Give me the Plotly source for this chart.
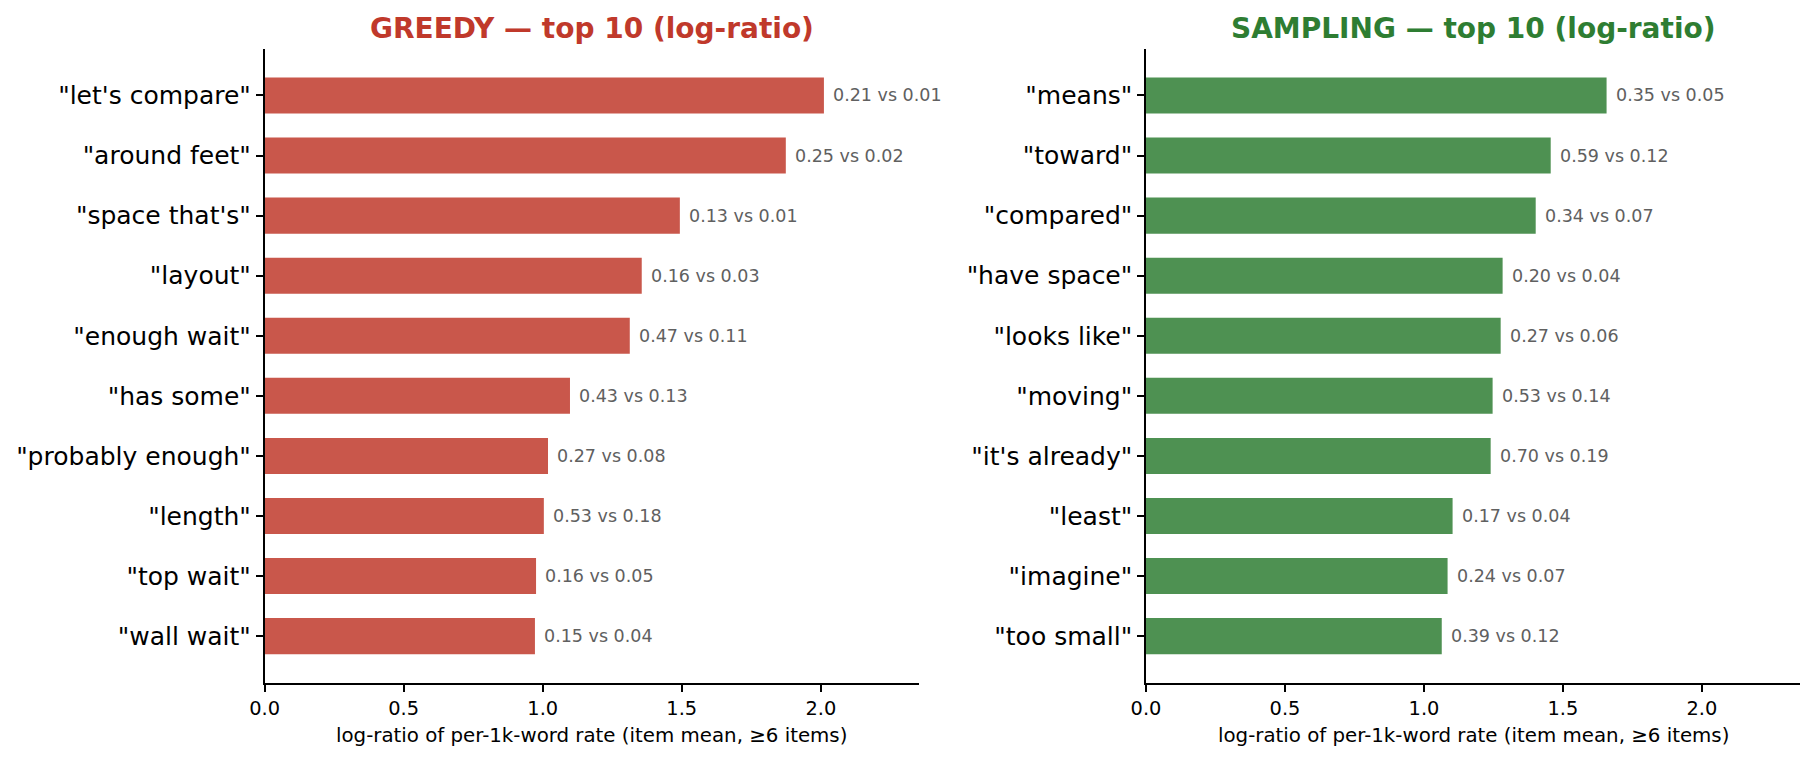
import plotly.graph_objects as go

W, H = 1815, 761
PAD = 8  # page body margin in the browser

# data, top to bottom
greedy_terms = ['"let\'s compare"', '"around feet"', '"space that\'s"', '"layout"', '"enough wait"',
                '"has some"', '"probably enough"', '"length"', '"top wait"', '"wall wait"']
greedy_logratio = [2.011, 1.874, 1.493, 1.356, 1.313, 1.098, 1.019, 1.004, 0.976, 0.972]
greedy_rates = ["0.21 vs 0.01", "0.25 vs 0.02", "0.13 vs 0.01", "0.16 vs 0.03", "0.47 vs 0.11",
                "0.43 vs 0.13", "0.27 vs 0.08", "0.53 vs 0.18", "0.16 vs 0.05", "0.15 vs 0.04"]

sampling_terms = ['"means"', '"toward"', '"compared"', '"have space"', '"looks like"',
                  '"moving"', '"it\'s already"', '"least"', '"imagine"', '"too small"']
sampling_logratio = [1.657, 1.456, 1.402, 1.283, 1.276, 1.247, 1.240, 1.103, 1.085, 1.064]
sampling_rates = ["0.35 vs 0.05", "0.59 vs 0.12", "0.34 vs 0.07", "0.20 vs 0.04", "0.27 vs 0.06",
                  "0.53 vs 0.14", "0.70 vs 0.19", "0.17 vs 0.04", "0.24 vs 0.07", "0.39 vs 0.12"]

xticks = [0.0, 0.5, 1.0, 1.5, 2.0]
xlabel = "log-ratio of per-1k-word rate (item mean, ≥6 items)"

FONT = "DejaVu Sans"
panels = [
    dict(terms=greedy_terms, vals=greedy_logratio, rates=greedy_rates,
         bar="#C9574B", title_color="#C0392B", title="GREEDY — top 10 (log-ratio)",
         dom=[(264.6 - PAD) / W, (919 - PAD) / W], ax=""),
    dict(terms=sampling_terms, vals=sampling_logratio, rates=sampling_rates,
         bar="#4E9152", title_color="#2E7D32", title="SAMPLING — top 10 (log-ratio)",
         dom=[(1146 - PAD) / W, (1800 - PAD) / W], ax="2"),
]

xmax = max(greedy_logratio + sampling_logratio) * 1.17
ydom = [1 - (683 - PAD) / H, 1 - (48.6 - PAD) / H]

fig = go.Figure()
annotations = []
for p in panels:
    fig.add_trace(go.Bar(
        x=p["vals"], y=p["terms"], orientation="h", width=0.6,
        marker=dict(color=p["bar"], line=dict(width=0)),
        xaxis="x" + p["ax"], yaxis="y" + p["ax"], showlegend=False,
    ))
    for v, t, r in zip(p["vals"], p["terms"], p["rates"]):
        annotations.append(dict(
            x=v, y=t, xref="x" + p["ax"], yref="y" + p["ax"], text=r, showarrow=False,
            xanchor="left", yanchor="middle", xshift=7,
            font=dict(family=FONT, size=17.5, color="#606060"),
        ))
    annotations.append(dict(
        x=(p["dom"][0] + p["dom"][1]) / 2, y=1 - (29 - PAD) / H, xref="paper", yref="paper",
        text=p["title"], showarrow=False, xanchor="center", yanchor="middle",
        font=dict(family=FONT, size=28, color=p["title_color"], weight="bold"),
    ))
    annotations.append(dict(
        x=(p["dom"][0] + p["dom"][1]) / 2, y=1 - (735 - PAD) / H, xref="paper", yref="paper",
        text=xlabel, showarrow=False, xanchor="center", yanchor="middle",
        font=dict(family=FONT, size=19.8, color="black"),
    ))

    axis_common = dict(showline=True, linecolor="black", linewidth=1.5, ticks="outside",
                       ticklen=7, tickwidth=1.5, tickcolor="black", showgrid=False,
                       zeroline=False, automargin=False)
    fig.update_layout(**{
        "xaxis" + p["ax"]: dict(domain=p["dom"], range=[0, xmax], tickvals=xticks,
                                tickformat=".1f", anchor="y" + p["ax"],
                                tickfont=dict(family=FONT, size=19.4, color="black"),
                                **axis_common),
        "yaxis" + p["ax"]: dict(domain=ydom, type="category", categoryorder="array",
                                categoryarray=p["terms"], range=[9.78, -0.78],
                                anchor="x" + p["ax"],
                                tickfont=dict(family=FONT, size=25, color="black"),
                                **axis_common),
    })

fig.update_layout(
    width=W, height=H,
    margin=dict(l=0, r=0, t=0, b=0),
    paper_bgcolor="white", plot_bgcolor="white",
    annotations=annotations,
    bargap=0.4,
)

fig.write_html("out.html")
